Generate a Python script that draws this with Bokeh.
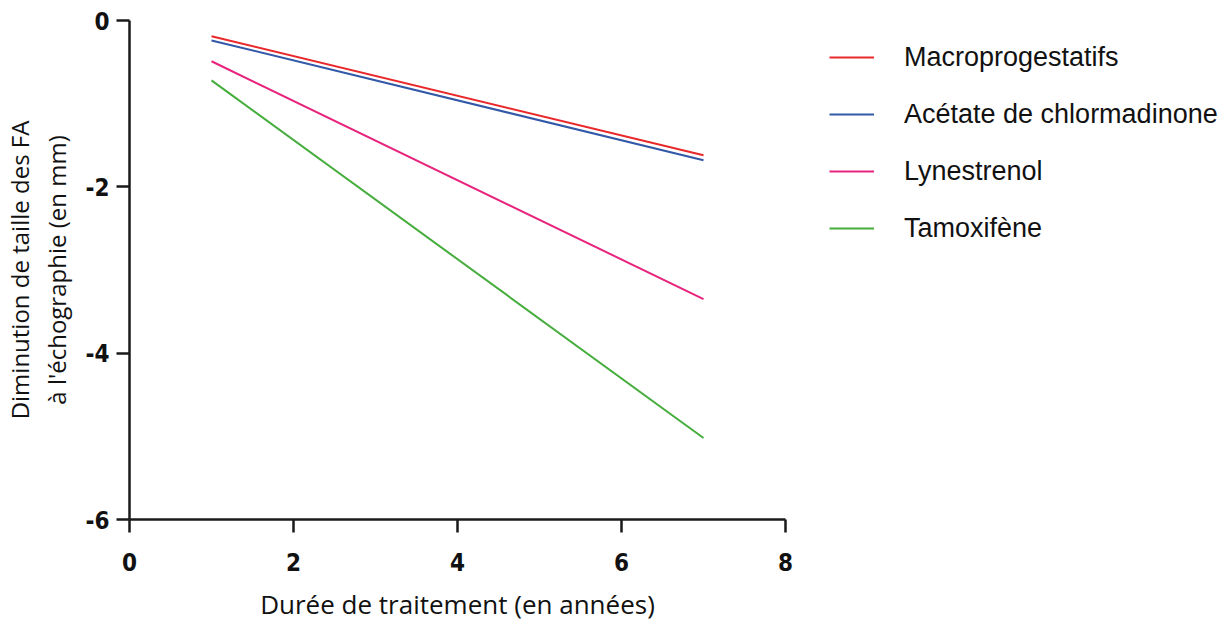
from bokeh.plotting import figure
from bokeh.models import Range1d, Legend, LegendItem, FixedTicker
from bokeh.embed import file_html
from bokeh.resources import INLINE

years = [1, 7]
macro = [-0.19, -1.62]
acetate = [-0.24, -1.68]
lynes = [-0.49, -3.35]
tamox = [-0.72, -5.02]
names = ["Macroprogestatifs", "Acétate de chlormadinone", "Lynestrenol", "Tamoxifène"]
colors = ["#e8282a", "#3258a8", "#e8237c", "#45ad3c"]
x_ticks = [0, 2, 4, 6, 8]
y_ticks = [-6, -4, -2, 0]

p = figure(frame_width=656, frame_height=499, output_backend="svg", toolbar_location=None,
           x_range=Range1d(0, 8), y_range=Range1d(-6, 0),
           min_border_left=122, min_border_top=20, min_border_right=436, min_border_bottom=86)
p.outline_line_color = None
p.grid.visible = False
p.background_fill_color = "white"

renderers = []
for ys, c in zip([macro, acetate, lynes, tamox], colors):
    r = p.line(years, ys, line_color=c, line_width=2)
    renderers.append(r)

for ax in (p.xaxis[0], p.yaxis[0]):
    ax.axis_line_width = 2.5
    ax.axis_line_color = "#1a1a1a"
    ax.major_tick_line_width = 2.5
    ax.major_tick_line_color = "#1a1a1a"
    ax.major_tick_in = 0
    ax.major_tick_out = 13
    ax.minor_tick_line_color = None
    ax.major_label_text_font = "DejaVu Sans Condensed"
    ax.major_label_text_font_style = "bold"
    ax.major_label_text_font_size = "24px"
    ax.major_label_text_color = "#111111"
    ax.axis_label_text_font = "Open Sans"
    ax.axis_label_text_font_style = "normal"
    ax.axis_label_text_color = "#111111"
    ax.axis_label_text_line_height = 1.1

p.xaxis[0].axis_label_text_font_size = "26px"
p.yaxis[0].axis_label_text_font_size = "24px"
p.xaxis[0].ticker = FixedTicker(ticks=x_ticks)
p.yaxis[0].ticker = FixedTicker(ticks=y_ticks)
p.xaxis[0].major_label_overrides = {t: str(t) for t in x_ticks}
p.yaxis[0].major_label_overrides = {t: str(t) for t in y_ticks}
p.xaxis[0].axis_label = "Durée de traitement (en années)"
p.yaxis[0].axis_label = "Diminution de taille des FA\nà l'échographie (en mm)"
p.xaxis[0].major_label_standoff = 20
p.xaxis[0].axis_label_standoff = 12
p.yaxis[0].major_label_standoff = 7
p.yaxis[0].axis_label_standoff = 10

legend = Legend(items=[LegendItem(label=n, renderers=[r]) for n, r in zip(names, renderers)],
                location=(44, 275))
legend.border_line_color = None
legend.background_fill_alpha = 0
legend.padding = 0
legend.margin = 0
legend.glyph_width = 45
legend.glyph_height = 32
legend.label_height = 32
legend.spacing = 25
legend.label_standoff = 30
legend.label_text_font = "Liberation Sans"
legend.label_text_font_size = "27px"
legend.label_text_color = "#111111"
p.add_layout(legend, "right")

open("out.html", "w").write(file_html(p, INLINE))
